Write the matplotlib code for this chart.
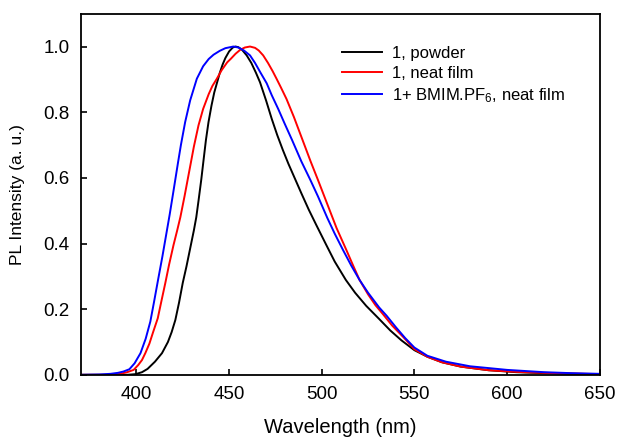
import matplotlib
matplotlib.use("Agg")
import matplotlib.pyplot as plt

plt.rcParams['font.family'] = ['Liberation Sans', 'DejaVu Sans']
plt.rcParams['mathtext.fontset'] = 'custom'
plt.rcParams['mathtext.rm'] = 'Liberation Sans'
plt.rcParams['mathtext.it'] = 'Liberation Sans'

# 1, powder (black)
wl_powder = [370, 395, 399.5, 403, 406, 410, 413.8, 417, 419, 421, 423, 425, 427, 429,
             431, 432.3, 433.5, 435, 436.2, 437.5, 438.9, 440.5, 442, 443.5, 445, 446.5,
             448, 450, 452, 453.5, 455, 457, 459.5, 462, 464.5, 466.7, 470, 473, 476,
             479, 482, 485.5, 489, 493, 497, 502.5, 507, 513, 518, 524, 531, 537, 543,
             550, 557, 565, 575, 590, 605, 620, 635, 650]
pl_powder = [0.0, 0.0, 0.002, 0.008, 0.018, 0.04, 0.066, 0.10, 0.13, 0.167, 0.22, 0.28, 0.33, 0.385,
             0.44, 0.48, 0.53, 0.595, 0.653, 0.715, 0.77, 0.82, 0.86, 0.89, 0.92, 0.945,
             0.965, 0.985, 0.997, 1.0, 0.998, 0.99, 0.973, 0.95, 0.92, 0.891, 0.835, 0.78, 0.73,
             0.685, 0.643, 0.598, 0.553, 0.503, 0.457, 0.395, 0.345, 0.289, 0.25, 0.21, 0.17, 0.135, 0.105,
             0.075, 0.055, 0.038, 0.025, 0.014, 0.008, 0.005, 0.003, 0.002]

# 1, neat film (red)
wl_film = [370, 388, 392, 395, 398.5, 401, 403, 404.8, 407, 409, 411.5, 413.5, 415.6, 417.6,
           420, 422, 423.7, 426, 428, 429.4, 431, 433.5, 436, 439, 441, 443.4, 446, 449,
           451, 453.5, 456, 458.5, 461.3, 464, 466, 468.4, 471, 473.5, 475.6, 478, 481,
           485, 490, 494, 498, 503, 508, 513.3, 517, 520.4, 525, 529, 533, 538, 544,
           550, 557, 565, 575, 590, 605, 620, 635, 650]
pl_film = [0.0, 0.0, 0.004, 0.008, 0.015, 0.03, 0.045, 0.066, 0.095, 0.13, 0.172, 0.225, 0.28, 0.335,
           0.395, 0.44, 0.48, 0.545, 0.605, 0.647, 0.695, 0.76, 0.81, 0.855, 0.88, 0.902, 0.928, 0.952,
           0.963, 0.978, 0.99, 0.997, 1.0, 0.996, 0.988, 0.973, 0.95, 0.925, 0.902, 0.875, 0.84,
           0.785, 0.71, 0.65, 0.593, 0.52, 0.447, 0.38, 0.332, 0.289, 0.245, 0.212, 0.185, 0.15, 0.115,
           0.078, 0.055, 0.038, 0.025, 0.014, 0.009, 0.006, 0.004, 0.002]

# 1 + BMIM.PF6, neat film (blue)
wl_bmim = [370, 380, 386, 390, 393, 396.2, 399, 402.2, 405, 407.5, 409.5, 411.7, 414, 416,
           418, 420, 422.4, 424, 426.3, 429, 432.6, 436, 439, 441.6, 445, 448, 452.3,
           455, 458, 461.3, 464, 467, 470.3, 473, 476.5, 480, 484, 489, 493.9, 498, 503,
           507, 511.5, 516, 520.4, 525, 531, 535, 540, 545, 550, 557, 567, 580, 600,
           620, 635, 650]
pl_bmim = [0.0, 0.001, 0.003, 0.006, 0.01, 0.017, 0.035, 0.066, 0.11, 0.162, 0.222, 0.29, 0.36, 0.425,
           0.49, 0.56, 0.645, 0.70, 0.77, 0.836, 0.902, 0.94, 0.962, 0.975, 0.987, 0.995, 1.0,
           0.997, 0.988, 0.973, 0.95, 0.92, 0.888, 0.852, 0.81, 0.765, 0.715, 0.65, 0.593, 0.543, 0.478,
           0.43, 0.38, 0.332, 0.289, 0.25, 0.205, 0.18, 0.145, 0.112, 0.083, 0.058, 0.04, 0.026, 0.015,
           0.008, 0.005, 0.003]

labels = ['1, powder', '1, neat film', r'1+ BMIM.PF$_6$, neat film']

fig = plt.figure(figsize=(6.17, 4.42), dpi=100)
ax = fig.add_axes([0.131, 0.152, 0.841, 0.817])

ax.plot(wl_powder, pl_powder, color='black', lw=1.4, label=labels[0])
ax.plot(wl_film, pl_film, color='red', lw=1.4, label=labels[1])
ax.plot(wl_bmim, pl_bmim, color='blue', lw=1.4, label=labels[2])

ax.set_xlim(370, 650)
ax.set_ylim(0, 1.1)
ax.set_xticks([400, 450, 500, 550, 600, 650])
ax.set_yticks([0.0, 0.2, 0.4, 0.6, 0.8, 1.0])
ax.set_yticklabels(['0.0', '0.2', '0.4', '0.6', '0.8', '1.0'])
ax.tick_params(direction='in', length=4, width=1.2, labelsize=13.5, pad=8,
               top=False, right=False)
for s in ax.spines.values():
    s.set_linewidth(1.3)

ax.set_xlabel('Wavelength (nm)', fontsize=14.5, labelpad=11)
ax.set_ylabel('PL Intensity (a. u.)', fontsize=12.5, labelpad=13)

ax.legend(loc='upper left', bbox_to_anchor=(0.503, 0.91), frameon=False,
          fontsize=12, borderpad=0, borderaxespad=0, handlelength=2.4,
          handletextpad=0.6, labelspacing=0.3)

fig.savefig('out.png', dpi=100)
